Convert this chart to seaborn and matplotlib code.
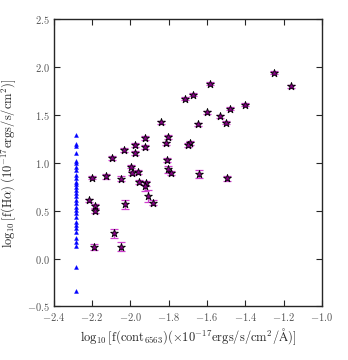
import numpy as np
import pandas as pd
import matplotlib
matplotlib.use("Agg")
import matplotlib.pyplot as plt
import seaborn as sns

# star points: continuum vs Halpha flux (log10)
star_x = [-1.250, -1.162, -1.584, -1.675, -1.715, -1.402, -1.478, -1.597, -1.532,
          -1.842, -1.645, -1.501, -1.925, -1.805, -1.974, -1.815, -1.923, -1.690,
          -1.701, -2.033, -1.976, -2.097, -1.810, -1.998, -1.803, -1.991, -1.958,
          -1.789, -1.642, -2.199, -2.129, -2.047, -1.497, -1.955, -1.918, -1.923,
          -1.909, -1.880, -2.217, -2.186, -2.184, -2.029, -2.087, -2.190, -2.050]
star_y = [1.941, 1.802, 1.826, 1.715, 1.672, 1.607, 1.567, 1.527, 1.486,
          1.423, 1.405, 1.418, 1.258, 1.269, 1.188, 1.203, 1.164, 1.209,
          1.185, 1.133, 1.105, 1.049, 1.031, 0.962, 0.931, 0.892, 0.906,
          0.895, 0.885, 0.847, 0.858, 0.833, 0.837, 0.801, 0.788, 0.756,
          0.652, 0.582, 0.607, 0.550, 0.495, 0.568, 0.262, 0.121, 0.124]
star_err = [0.015, 0.015, 0.015, 0.015, 0.015, 0.015, 0.015, 0.015, 0.015,
            0.02, 0.015, 0.015, 0.02, 0.02, 0.02, 0.02, 0.02, 0.02,
            0.02, 0.02, 0.02, 0.02, 0.02, 0.02, 0.04, 0.02, 0.02,
            0.025, 0.038, 0.02, 0.025, 0.025, 0.025, 0.025, 0.025, 0.045,
            0.065, 0.025, 0.02, 0.025, 0.02, 0.045, 0.045, 0.03, 0.05]

# triangle points (upper limits on continuum)
tri_x = -2.285
tri_y = [1.293, 1.199, 1.172, 1.101, 1.025, 0.997, 0.962, 0.927, 0.874, 0.840,
         0.805, 0.777, 0.753, 0.718, 0.683, 0.649, 0.613, 0.578, 0.544, 0.508,
         0.474, 0.439, 0.377, 0.352, 0.324, 0.275, 0.217, 0.178, 0.136, -0.084,
         -0.335]

stars = pd.DataFrame({"x": star_x, "y": star_y, "err": star_err})
tris = pd.DataFrame({"x": [tri_x] * len(tri_y), "y": tri_y})

sns.set_style("ticks")
plt.rcParams["font.family"] = "serif"
plt.rcParams["font.serif"] = ["cmr10"]
plt.rcParams["mathtext.fontset"] = "cm"
plt.rcParams["axes.formatter.use_mathtext"] = True
plt.rcParams["axes.unicode_minus"] = True

fig = plt.figure(figsize=(3.48, 3.60), dpi=100)
ax = fig.add_axes([0.154, 0.149, 0.771, 0.797])

ax.errorbar(stars["x"], stars["y"], yerr=stars["err"], fmt="none",
            ecolor="#d040d0", elinewidth=0.9, capsize=3, capthick=0.9, zorder=2)
sns.scatterplot(data=stars, x="x", y="y", marker="*", s=34, color="#8a008a",
                edgecolor="black", linewidth=0.6, ax=ax, zorder=3)
sns.scatterplot(data=tris, x="x", y="y", marker="^", s=8, color="blue",
                edgecolor="blue", linewidth=0.3, ax=ax, zorder=3)

ax.set_xlim(-2.4, -1.0)
ax.set_ylim(-0.5, 2.5)
ax.set_xticks(np.arange(-2.4, -0.99, 0.2))
ax.set_yticks(np.arange(-0.5, 2.51, 0.5))
ax.xaxis.set_major_formatter(matplotlib.ticker.FormatStrFormatter("$%.1f$"))
ax.yaxis.set_major_formatter(matplotlib.ticker.FormatStrFormatter("$%.1f$"))
ax.tick_params(direction="in", top=True, right=True, length=4, width=0.8,
               labelsize=7.5, labelcolor="#555555", pad=3)
for sp in ax.spines.values():
    sp.set_linewidth(1.0)

ax.set_xlabel(r"$\log_{10}[\mathrm{f(cont_{6563})}(\times10^{-17}\mathrm{ergs/s/cm^2/\AA})]$",
              fontsize=9, labelpad=3)
ax.set_ylabel(r"$\log_{10}[\mathrm{f(H\alpha)}\ (10^{-17}\mathrm{ergs/s/cm^2})]$",
              fontsize=9, labelpad=6)

fig.savefig("out.png", dpi=100)
